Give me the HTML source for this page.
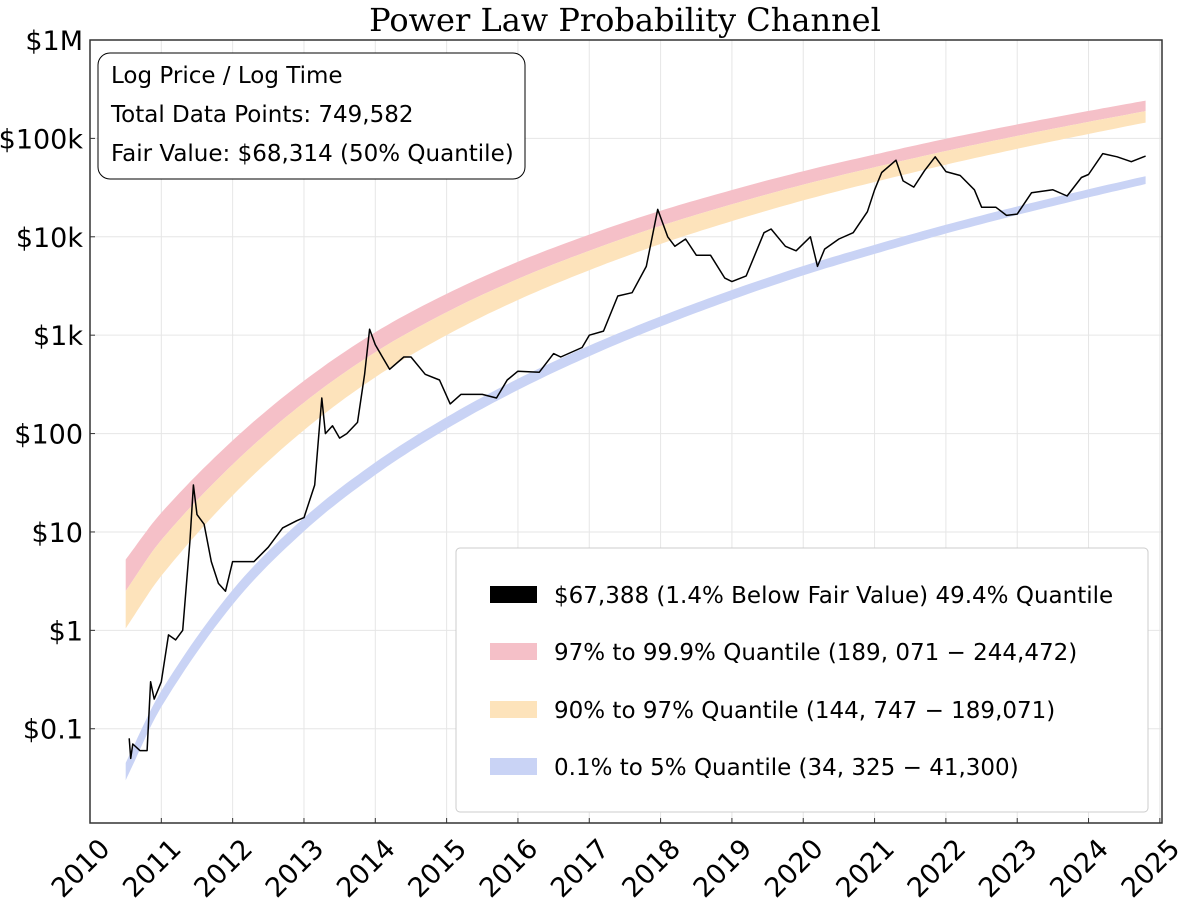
<!DOCTYPE html>
<html><head><meta charset="utf-8"><style>
body{margin:0;background:#fff;width:1200px;height:898px;overflow:hidden}
svg{display:block}
text{font-family:"DejaVu Sans","Liberation Sans",sans-serif;fill:#000}
</style></head><body>
<svg id="chart" width="1200" height="898">
<text x="625" y="31" text-anchor="middle" style="font-family:'DejaVu Serif','Liberation Serif',serif;font-size:32px">Power Law Probability Channel</text>
<g id="grid"></g>
<g id="bands"></g>
<g id="price"></g>
<rect x="90" y="40" width="1072" height="783" fill="none" stroke="#333" stroke-width="1.5"/>
<g id="axes"></g>
<g>
<rect x="98" y="53" width="427" height="126" rx="12" fill="#fff" stroke="#000" stroke-width="1"/>
<text x="111" y="83" font-size="23">Log Price / Log Time</text>
<text x="111" y="122" font-size="23">Total Data Points: 749,582</text>
<text x="111" y="161" font-size="23">Fair Value: $68,314 (50% Quantile)</text>
</g>
<g>
<rect x="456" y="548" width="692" height="264" rx="4" fill="#fff" stroke="#ccc" stroke-width="1"/>
<g><rect x="490" y="586" width="47" height="17" fill="#000"/><text x="554" y="603" font-size="23">$67,388 (1.4% Below Fair Value) 49.4% Quantile</text></g>
<g><rect x="490" y="643" width="47" height="17" fill="#f5c0c8"/><text x="554" y="660" font-size="23">97% to 99.9% Quantile (189, 071 − 244,472)</text></g>
<g><rect x="490" y="701" width="47" height="17" fill="#fde3bb"/><text x="554" y="718" font-size="23">90% to 97% Quantile (144, 747 − 189,071)</text></g>
<g><rect x="490" y="758" width="47" height="17" fill="#c9d3f5"/><text x="554" y="775" font-size="23">0.1% to 5% Quantile (34, 325 − 41,300)</text></g>
</g>
</svg>
<script>
const bandYears=[2010.5,2011,2012,2013,2014,2015,2016,2017,2018,2019,2020,2021,2022,2023,2024,2024.8];
const redTopLog=[0.72,1.196,1.93,2.536,3.03,3.42,3.746,4.022,4.265,4.475,4.667,4.836,4.996,5.142,5.279,5.384];
const redBotLog=[0.40,0.918,1.686,2.315,2.827,3.233,3.572,3.858,4.111,4.330,4.530,4.706,4.872,5.025,5.168,5.277];
const orangeBotLog=[0.02,0.554,1.371,2.035,2.573,3.001,3.358,3.660,3.927,4.159,4.370,4.557,4.733,4.894,5.045,5.161];
const blueTopLog=[-1.347,-0.614,0.410,1.143,1.707,2.167,2.557,2.894,3.191,3.459,3.703,3.918,4.122,4.308,4.483,4.616];
const blueBotLog=[-1.523,-0.778,0.262,1.007,1.580,2.047,2.443,2.786,3.088,3.360,3.608,3.826,4.033,4.222,4.400,4.536];
const priceYears=[2010.55,2010.57,2010.6,2010.7,2010.8,2010.85,2010.9,2011.0,2011.1,2011.2,2011.3,2011.4,2011.45,2011.5,2011.6,2011.7,2011.8,2011.9,2012.0,2012.1,2012.3,2012.5,2012.7,2012.9,2013.0,2013.15,2013.25,2013.3,2013.4,2013.5,2013.6,2013.75,2013.85,2013.92,2014.0,2014.1,2014.2,2014.4,2014.5,2014.7,2014.9,2015.05,2015.2,2015.5,2015.7,2015.85,2016.0,2016.3,2016.5,2016.6,2016.9,2017.0,2017.2,2017.4,2017.6,2017.8,2017.96,2018.1,2018.2,2018.35,2018.5,2018.7,2018.9,2019.0,2019.2,2019.45,2019.55,2019.75,2019.9,2020.1,2020.2,2020.3,2020.5,2020.7,2020.9,2021.0,2021.1,2021.3,2021.4,2021.55,2021.7,2021.85,2022.0,2022.2,2022.4,2022.5,2022.7,2022.85,2023.0,2023.2,2023.5,2023.7,2023.9,2024.0,2024.2,2024.4,2024.6,2024.8];
const priceValues=[0.08,0.05,0.07,0.06,0.06,0.3,0.2,0.3,0.9,0.8,1,8,30,15,12,5,3,2.5,5,5,5,7,11,13,14,30,230,100,120,90,100,130,400,1150,800,600,450,600,600,400,350,200,250,250,230,350,430,420,650,600,750,1000,1100,2500,2700,5000,19000,10000,8000,9500,6500,6500,3800,3500,4000,11000,12000,8000,7200,10000,5000,7500,9500,11000,18000,30000,45000,60000,37000,32000,47000,65000,46000,42000,30000,20000,20000,16500,17000,28000,30000,26000,40000,43000,70000,65000,58000,66000];
const yTickLog=[-1,0,1,2,3,4,5,6];
const yTickLabels=["$0.1","$1","$10","$100","$1k","$10k","$100k","$1M"];
const xTicks=[2010,2011,2012,2013,2014,2015,2016,2017,2018,2019,2020,2021,2022,2023,2024,2025];

const NS="http://www.w3.org/2000/svg";
const X0=90,X1=1162,Y0=40,Y1=823;
const xMin=2010,xMax=2025.03,lMax=6,lMin=-1.958;
const xs=t=>X0+(t-xMin)/(xMax-xMin)*(X1-X0);
const ys=l=>Y0+(lMax-l)/(lMax-lMin)*(Y1-Y0);
function mk(tag,attrs,parent){const e=document.createElementNS(NS,tag);for(const k in attrs)e.setAttribute(k,attrs[k]);parent.appendChild(e);return e;}
const grid=document.getElementById('grid'),axes=document.getElementById('axes'),bands=document.getElementById('bands'),price=document.getElementById('price');
yTickLog.forEach((l,i)=>{const y=ys(l);
 const g=mk('line',{x1:X0,x2:X1,y1:y,y2:y,stroke:'#e6e6e6','stroke-width':1},grid);
 
 
 const t=mk('text',{x:83,y:y+10,'text-anchor':'end','font-size':27},axes);t.textContent=yTickLabels[i];
 
 
 mk('line',{x1:X0,x2:X0+5,y1:y,y2:y,stroke:'#333'},axes);
});
xTicks.forEach(yr=>{const x=xs(yr);
 const g=mk('line',{x1:x,x2:x,y1:Y0,y2:Y1,stroke:'#e6e6e6','stroke-width':1},grid);
 
 
 mk('line',{x1:x,x2:x,y1:Y1,y2:Y1-5,stroke:'#333'},axes);
 const t=mk('text',{x:x+8,y:Y1+14,'text-anchor':'end','font-size':27,transform:`rotate(-45 ${x+8} ${Y1+14})`,dy:'0.7em'},axes);t.textContent=yr;
 
 
});
function smooth(years,vals){
 const pts=[];for(let i=0;i<years.length-1;i++){const p0=vals[Math.max(0,i-1)],p1=vals[i],p2=vals[i+1],p3=vals[Math.min(vals.length-1,i+2)];
  const t0=years[Math.max(0,i-1)],t1=years[i],t2=years[i+1],t3=years[Math.min(years.length-1,i+2)];
  const m1=(p2-p0)/(t2-t0||1)*(t2-t1),m2=(p3-p1)/(t3-t1||1)*(t2-t1);
  for(let k=0;k<12;k++){const s=k/12,h00=2*s*s*s-3*s*s+1,h10=s*s*s-2*s*s+s,h01=-2*s*s*s+3*s*s,h11=s*s*s-s*s;
   pts.push([xs(t1+(t2-t1)*s),ys(h00*p1+h10*m1+h01*p2+h11*m2)]);}}
 pts.push([xs(years[years.length-1]),ys(vals[vals.length-1])]);return pts;}
function band(top,bot,fill,name){const a=smooth(bandYears,top),b=smooth(bandYears,bot).reverse();
 const d='M'+a.concat(b).map(p=>p[0].toFixed(1)+','+p[1].toFixed(1)).join('L')+'Z';
 const p=mk('path',{d:d,fill:fill},bands);
 
 }
band(redTopLog,redBotLog,'#f5c0c8','band-97-99');
band(redBotLog,orangeBotLog,'#fde3bb','band-90-97');
band(blueTopLog,blueBotLog,'#c9d3f5','band-0-5');
const d='M'+priceYears.map((t,i)=>xs(t).toFixed(1)+','+ys(Math.log10(priceValues[i])).toFixed(1)).join('L');
const pl=mk('path',{d:d,fill:'none',stroke:'#000','stroke-width':1.5,'stroke-linejoin':'round'},price);


</script>
</body></html>
